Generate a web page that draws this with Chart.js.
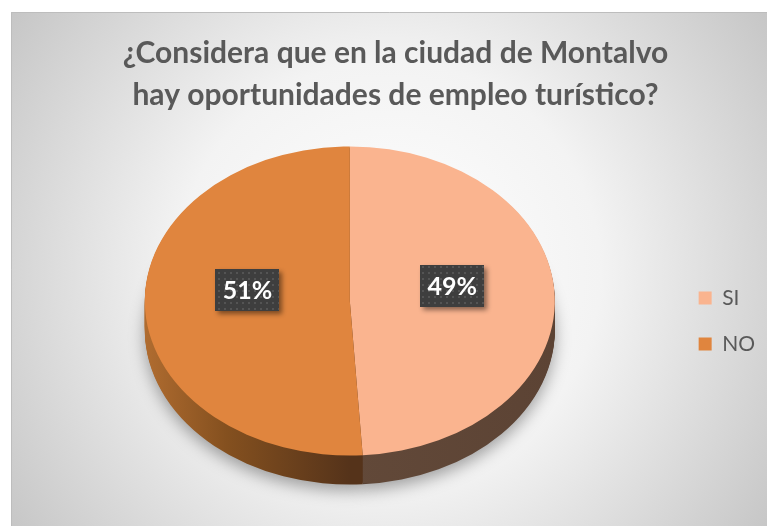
<!DOCTYPE html>
<html>
<head>
<meta charset="utf-8">
<script src="https://cdn.jsdelivr.net/npm/chart.js@4"></script>
<style>
  html, body { margin: 0; padding: 0; background: #fff; }
</style>
</head>
<body>
<canvas id="myChart" width="767" height="526"></canvas>
<script>
const categories = ["SI", "NO"];
const values = [49, 51];
const titleLines = [
  "¿Considera que en la ciudad de Montalvo",
  "hay oportunidades de empleo turístico?",
];
const topColors = ["#FAB48F", "#E0853E"];

const TILT = 0.754;   // vertical squash of the pie (3d look)
const LIFT = 20;      // move the face up inside the chart area
const DEPTH = 29;     // thickness of the pie

// background box with radial grey gradient
const backgroundBox = {
  id: "backgroundBox",
  beforeDraw(chart) {
    const { ctx, width, height } = chart;
    ctx.save();
    const g = ctx.createRadialGradient(389, 272, 0, 389, 272, 470);
    g.addColorStop(0, "#FFFFFF");
    g.addColorStop(0.45, "#F3F3F3");
    g.addColorStop(1, "#C4C4C4");
    ctx.fillStyle = g;
    ctx.fillRect(11, 12, width - 11, height - 12);
    ctx.strokeStyle = "#BDBDBD";
    ctx.lineWidth = 1;
    ctx.beginPath();
    ctx.moveTo(11.5, height);
    ctx.lineTo(11.5, 12.5);
    ctx.lineTo(width, 12.5);
    ctx.stroke();
    ctx.restore();
  },
};

function tilt(ctx, arc, dy) {
  ctx.translate(arc.x, arc.y - LIFT + dy);
  ctx.scale(1, TILT);
  ctx.translate(-arc.x, -arc.y);
}

function sideFill(ctx, arc, i) {
  const r = arc.outerRadius;
  const g = ctx.createLinearGradient(arc.x - r, 0, arc.x + r, 0);
  if (i === 0) {
    g.addColorStop(0, "#5B4233");
    g.addColorStop(0.5, "#624939");
    g.addColorStop(1, "#5C4334");
  } else {
    g.addColorStop(0, "#B06C30");
    g.addColorStop(0.2, "#84501F");
    g.addColorStop(0.5, "#55331A");
    g.addColorStop(1, "#55331A");
  }
  return g;
}

// pie drawn squashed with a side band, from the library's arc elements
const pie3d = {
  id: "pie3d",
  beforeDatasetsDraw(chart) {
    const ctx = chart.ctx;
    const arcs = chart.getDatasetMeta(0).data;
    for (let d = DEPTH; d >= 1; d--) {
      arcs.forEach((arc, i) => {
        const ghost = Object.create(arc);
        ctx.save();
        if (d === DEPTH) {
          ctx.shadowColor = "rgba(0,0,0,0.35)";
          ctx.shadowBlur = 16;
          ctx.shadowOffsetY = 6;
        }
        ghost.options = { ...arc.options, backgroundColor: sideFill(ctx, arc, i), borderWidth: 0 };
        tilt(ctx, arc, d);
        ghost.draw(ctx);
        ctx.restore();
      });
    }
    arcs.forEach((arc) => {
      ctx.save();
      tilt(ctx, arc, 0);
      arc.draw(ctx);
      ctx.restore();
    });
    return false;
  },
  afterDraw(chart) {
    const ctx = chart.ctx;
    const arcs = chart.getDatasetMeta(0).data;
    const tile = document.createElement("canvas");
    tile.width = 6;
    tile.height = 6;
    const t = tile.getContext("2d");
    t.fillStyle = "#3E3E3E";
    t.fillRect(0, 0, 6, 6);
    t.fillStyle = "#545454";
    t.fillRect(2, 2, 2, 2);
    const pattern = ctx.createPattern(tile, "repeat");
    arcs.forEach((arc, i) => {
      const p = arc.tooltipPosition();
      const x = p.x;
      const y = arc.y - LIFT + (p.y - arc.y) * TILT - 13;
      const text = values[i] + "%";
      ctx.save();
      ctx.font = "bold 25px Lato";
      const w = 64;
      const h = 42;
      ctx.shadowColor = "rgba(0,0,0,0.45)";
      ctx.shadowBlur = 5;
      ctx.shadowOffsetX = 3;
      ctx.shadowOffsetY = 3;
      ctx.fillStyle = pattern;
      ctx.fillRect(Math.round(x - w / 2), Math.round(y - h / 2), w, h);
      ctx.shadowColor = "transparent";
      ctx.fillStyle = "#FFFFFF";
      ctx.textAlign = "center";
      ctx.textBaseline = "middle";
      ctx.fillText(text, x, y + 1);
      ctx.restore();
    });
  },
};

const ctx = document.getElementById("myChart").getContext("2d");
new Chart(ctx, {
  type: "pie",
  data: {
    labels: categories,
    datasets: [
      {
        data: values,
        backgroundColor: topColors,
        borderWidth: 0,
      },
    ],
  },
  options: {
    responsive: false,
    animation: false,
    layout: {
      padding: { left: 26, right: 2, top: 0, bottom: 0 },
    },
    plugins: {
      title: {
        display: true,
        text: titleLines,
        color: "#595959",
        font: { family: "Lato", size: 30, weight: "bold", lineHeight: 1.4 },
        padding: { top: 32, bottom: 0 },
      },
      legend: {
        position: "right",
        fullSize: false,
        labels: {
          boxWidth: 13,
          boxHeight: 13,
          padding: 25,
          color: "#595959",
          font: { family: "Lato", size: 21 },
        },
      },
      tooltip: { enabled: false },
    },
  },
  plugins: [backgroundBox, pie3d],
});
</script>
</body>
</html>
